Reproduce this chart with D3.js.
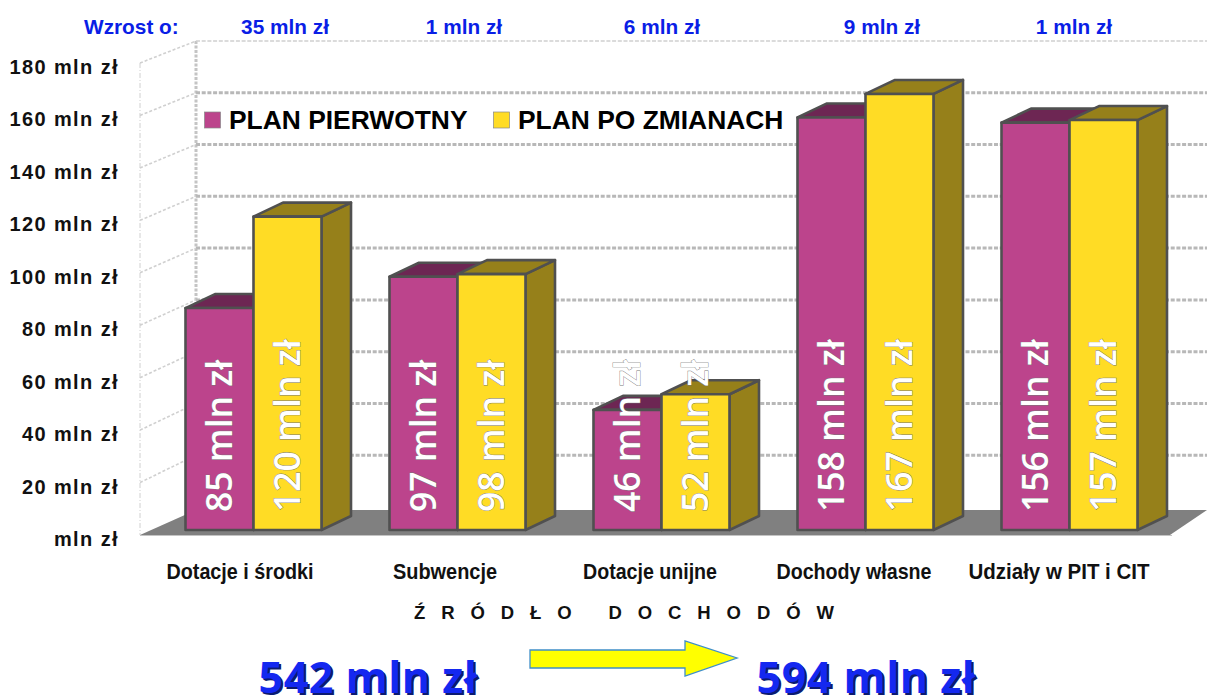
<!DOCTYPE html>
<html><head><meta charset="utf-8">
<script src="https://cdn.jsdelivr.net/npm/d3@7"></script>
<style>html,body{margin:0;padding:0;background:#fff}svg{display:block}</style></head>
<body><svg id="c" width="1207" height="696"></svg>
<script>
const categories=["Dotacje i środki","Subwencje","Dotacje unijne","Dochody własne","Udziały w PIT i CIT"];
const catWidths=[147,104,134,155,181];
const catX=[240,445,650,854,1059];
const planPierwotny=[85,97,46,158,156];
const planPoZmianach=[120,98,52,167,157];
const growth=["35 mln zł","1 mln zł","6 mln zł","9 mln zł","1 mln zł"];
const growthX=[285,464,662,882,1074];
const ticks=[0,20,40,60,80,100,120,140,160,180];
const seriesNames=["PLAN PIERWOTNY","PLAN PO ZMIANACH"];
const colors=[{f:"#bc448c",t:"#6d2653",s:"#6d2653"},{f:"#ffdc25",t:"#96801a",s:"#96801a"}];
const tot=["542 mln zł","594 mln zł"];

const svg=d3.select("#c");
const y=d3.scaleLinear().domain([0,180]).range([530,60]);
const yBack=d3.scaleLinear().domain([0,180]).range([507,41]);
const yFront=d3.scaleLinear().domain([0,180]).range([535,63]);
const x0=d3.scalePoint().domain(d3.range(5)).range([253.5,1069.5]);
const bw=68, dx=29.5, dy=-14;
const wallX=196, frontX=140;
const sans="'Liberation Sans',Arial,sans-serif";

// floor
svg.append("polygon").attr("fill","#808080")
 .attr("points",[[140,535],[196,510],[1207,510],[1170,535]].map(p=>p.join(",")).join(" "));
svg.append("line").attr("x1",140).attr("x2",1172).attr("y1",535.5).attr("y2",535.5).attr("stroke","#c4c4c4").attr("stroke-width",1);

// back wall + side wall grid
const g=svg.append("g");
g.append("line").attr("x1",wallX).attr("x2",wallX).attr("y1",41).attr("y2",510)
 .attr("stroke","#c4c4c4").attr("stroke-width",3).attr("stroke-dasharray","3 1.5");
g.append("line").attr("x1",frontX).attr("x2",frontX).attr("y1",63).attr("y2",535)
 .attr("stroke","#d0d0d0").attr("stroke-width",1).attr("stroke-dasharray","5 2 1 2");
ticks.filter(v=>v>0).forEach(v=>{
  g.append("line").attr("x1",wallX).attr("x2",1207).attr("y1",yBack(v)).attr("y2",yBack(v))
   .attr("stroke",v===180?"#cfcfcf":"#b8b8b8").attr("stroke-width",v===180?1.5:3).attr("stroke-dasharray","4 1.7");
  g.append("line").attr("x1",frontX).attr("x2",wallX).attr("y1",yFront(v)).attr("y2",yBack(v))
   .attr("stroke","#d0d0d0").attr("stroke-width",1.6).attr("stroke-dasharray","3 2");
});

// axis labels
svg.append("g").selectAll("text").data(ticks).join("text")
 .attr("x",119).attr("y",v=>yFront(v)+11)
 .attr("text-anchor","end").attr("font-family",sans).attr("font-weight","700").attr("font-size",20).attr("letter-spacing",1.4).attr("fill","#111")
 .text(v=>(v?v+" ":"")+"mln zł");

// bars
function bar(sel,px,val,c){
  const top=y(val),bot=y(0),G=sel.append("g").attr("stroke","#505050").attr("stroke-width",2.6).attr("stroke-linejoin","round");
  G.append("polygon").attr("fill",c.s).attr("points",[[px+bw,top],[px+bw+dx,top+dy],[px+bw+dx,bot+dy],[px+bw,bot]].join(" "));
  G.append("polygon").attr("fill",c.t).attr("points",[[px,top],[px+dx,top+dy],[px+bw+dx,top+dy],[px+bw,top]].join(" "));
  G.append("rect").attr("x",px).attr("y",top).attr("width",bw).attr("height",bot-top).attr("fill",c.f);
}
const bars=svg.append("g");
categories.forEach((_,i)=>{
  bar(bars,x0(i)-bw,planPierwotny[i],colors[0]);
  bar(bars,x0(i),planPoZmianach[i],colors[1]);
});
const lab=svg.append("g");
categories.forEach((_,i)=>{
  [[planPierwotny[i],x0(i)-bw/2],[planPoZmianach[i],x0(i)+bw/2]].forEach(([v,cx])=>{
    lab.append("text").attr("transform",`translate(${cx+12},512) rotate(-90)`)
      .attr("font-family","'Open Sans',sans-serif").attr("font-weight","600").attr("font-size",35.5).attr("fill","#fff")
      .attr("stroke","#777").attr("stroke-width",.8).attr("paint-order","stroke")
      .text(v+" mln zł");
  });
});

// legend
const leg=svg.append("g");
[[204,229],[493,518]].forEach(([sx,tx],i)=>{
  leg.append("rect").attr("x",sx+.5).attr("y",112).attr("width",16).attr("height",16).attr("fill",colors[i].f).attr("stroke","#888").attr("stroke-width",.7);
  leg.append("text").attr("x",tx).attr("y",129).attr("font-family",sans).attr("font-weight","700").attr("font-size",26.4).attr("fill","#000").text(seriesNames[i]);
});

// top
const top_=svg.append("g").attr("font-family",sans).attr("font-weight","700").attr("font-size",20.8).attr("fill","#0a1ee6");
top_.append("text").attr("x",84).attr("y",34).text("Wzrost o:");
growth.forEach((t,i)=>top_.append("text").attr("x",growthX[i]).attr("y",34).attr("text-anchor","middle").text(t));

// categories
svg.append("g").selectAll("text").data(categories).join("text")
 .attr("x",(d,i)=>catX[i]).attr("y",579).attr("text-anchor","middle")
 .attr("textLength",(d,i)=>catWidths[i]).attr("lengthAdjust","spacingAndGlyphs")
 .attr("font-family",sans).attr("font-weight","700").attr("font-size",22).attr("fill","#111")
 .text(d=>d);
svg.append("text").attr("x",414).attr("y",619).attr("font-family",sans).attr("font-weight","700").attr("font-size",18.5).attr("fill","#111")
 .attr("letter-spacing",15.9).text("ŹRÓDŁO DOCHODÓW");

// totals
[[368,0],[866,1]].forEach(([cx,i])=>{
  const base=693;
  [[2,2,"#0c1a70"],[0,0,"#1428f0"]].forEach(([ox,oy,col])=>{
    svg.append("text").attr("x",cx+ox).attr("y",base+oy).attr("text-anchor","middle").attr("font-family","'Open Sans',sans-serif").attr("font-weight","700").attr("font-size",43).attr("letter-spacing",.5).attr("fill",col).text(tot[i]);
  });
});
// arrow
svg.append("polygon").attr("fill","#ffff00").attr("stroke","#3f8fc8").attr("stroke-width",1.3)
 .attr("points","530,650 685,650 685,641 737,658 685,676 685,668 530,668");
</script></body></html>
